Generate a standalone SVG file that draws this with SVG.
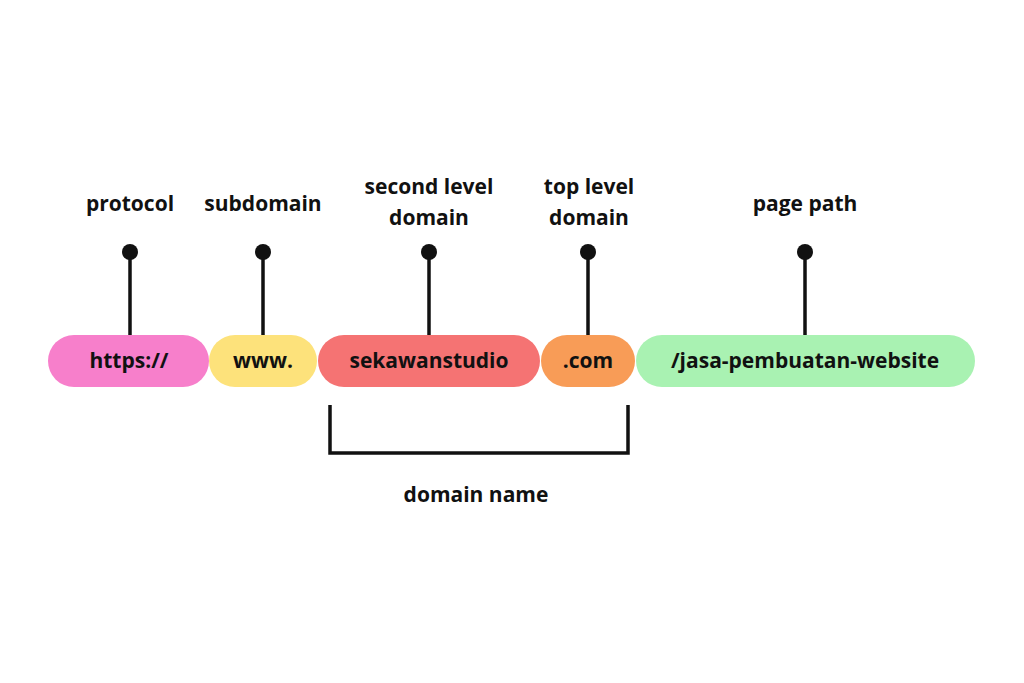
<svg xmlns="http://www.w3.org/2000/svg" width="1024" height="683" viewBox="0 0 1024 683">
<style>
text{font-family:"Open Sans","Liberation Sans",sans-serif;font-weight:bold;font-size:21px;fill:#111;text-anchor:middle}
.ln{stroke:#111;stroke-width:3.5;fill:none}
</style>
<rect width="1024" height="683" fill="#fff"/>
<g id="connectors">
<g class="ln"><line x1="130" y1="252" x2="130" y2="335"/><line x1="263" y1="252" x2="263" y2="335"/><line x1="429" y1="252" x2="429" y2="335"/><line x1="588" y1="252" x2="588" y2="335"/><line x1="805" y1="252" x2="805" y2="335"/>
<polyline points="330,405 330,453 628,453 628,405"/></g>
<g fill="#111"><circle cx="130" cy="252" r="8"/><circle cx="263" cy="252" r="8"/><circle cx="429" cy="252" r="8"/><circle cx="588" cy="252" r="8"/><circle cx="805" cy="252" r="8"/></g>
</g>
<g id="protocol"><rect x="48" y="335" width="161" height="52" rx="26" fill="#F77FCB"/><text x="129" y="368">https://</text><text x="130" y="211">protocol</text></g>
<g id="subdomain"><rect x="209" y="335" width="108" height="52" rx="26" fill="#FDE27B"/><text x="263" y="368">www.</text><text x="263" y="211">subdomain</text></g>
<g id="sld"><rect x="318" y="335" width="222" height="52" rx="26" fill="#F57373"/><text x="429" y="368">sekawanstudio</text><text x="429" y="194">second level</text><text x="429" y="225">domain</text></g>
<g id="tld"><rect x="541" y="335" width="94" height="52" rx="26" fill="#F89C57"/><text x="588" y="368">.com</text><text x="589" y="194">top level</text><text x="589" y="225">domain</text></g>
<g id="path"><rect x="636" y="335" width="339" height="52" rx="26" fill="#A9F2B2"/><text x="805" y="368">/jasa-pembuatan-website</text><text x="805" y="211">page path</text></g>
<g id="domainname"><text x="476" y="502">domain name</text></g>
</svg>
